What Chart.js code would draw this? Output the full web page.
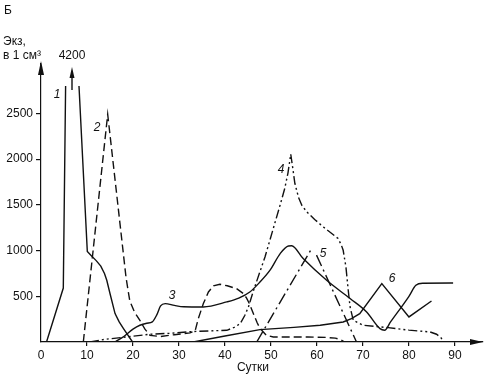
<!DOCTYPE html>
<html>
<head>
<meta charset="utf-8">
<script src="https://cdn.jsdelivr.net/npm/chart.js@4.4.1/dist/chart.umd.min.js"></script>
<style>
html,body{margin:0;padding:0;background:#fff;}
#wrap{width:488px;height:378px;position:relative;}
</style>
</head>
<body>
<div id="wrap"><canvas id="c" width="488" height="378"></canvas></div>
<script>
// ---- data (days, specimens per cm3) ----
const xTicks = [0,10,20,30,40,50,60,70,80,90];
const yTicks = [500,1000,1500,2000,2500];
const curve1 = [[1.2,0],[4.85,590],[5.35,2800],[6.8,null],[8.26,2800],[10.07,990],[11,940],[12,890],[13,830],[13.8,750],[14.3,675],[15,530],[16.1,311],[17,220],[17.9,150],[19.9,0]];
const curve2 = [[9.2,0],[14.5,2490],[18.5,700],[19.3,450],[20.3,330],[21.5,237],[22.6,140],[23.7,73],[26,60],[29,80],[32.4,100],[33.5,120],[34.2,256],[35.3,420],[36.4,547],[37.5,615],[38.9,631],[40.5,615],[42.5,584],[44,530],[44.7,480],[45.3,420],[46.1,320],[47,210],[47.6,150],[49,73],[50.5,55],[58,55],[62,50],[64,42],[65.2,25],[66,0]];
const curve3 = [[16.1,0],[18,60],[20,140],[21.5,183],[23,205],[24.2,220],[25.2,300],[26,395],[27,420],[29,400],[31,385],[35.3,383],[40.4,438],[43,480],[45.4,547],[47.5,650],[49.8,785],[52,967],[53.8,1050],[54.5,1052],[57,912],[62.1,675],[67.2,475],[70.8,328],[73.7,146],[74.7,128],[76,220],[80,500],[81.5,620],[83,643],[89.6,645]];
const curve4 = [[10.65,0],[14,30],[18.6,55],[23.7,85],[28,95],[33.1,115],[40.4,128],[42,160],[43.3,200],[44.3,290],[45.1,383],[46.1,547],[48.7,930],[52,1500],[53,1680],[53.7,1850],[54.3,2054],[54.8,1880],[55.2,1733],[56,1580],[56.7,1496],[57.8,1422],[59.5,1340],[61.4,1258],[63,1195],[64.6,1131],[65.3,1060],[65.7,1003],[66.3,820],[66.8,566],[67.2,383],[67.9,237],[70,183],[75.5,157],[80,130],[84.6,110],[86,85],[87,45],[87.5,0]];
const curve5 = [[46.9,0],[58.8,1018],[59.3,null],[59.9,950],[68.6,0]];
const curve6 = [[33.1,0],[40,65],[47.6,135],[55,160],[60.7,183],[65.7,219],[67.5,255],[69.3,310],[74.1,639],[80,274],[84.9,448]];
const curveLabels = [["1",57,95],["2",97,128],["3",172,296],["4",281,170],["5",323,254],["6",392,279]];

const toPts = a => a.map(p => ({x:p[0], y:p[1]}));
const INK = '#111';
function ds(arr, dash, smooth){
  return {data: toPts(arr), borderColor: INK, borderWidth: 1.4, borderDash: dash,
    pointRadius: 0, fill: false, spanGaps: false,
    tension: 0, cubicInterpolationMode: smooth ? 'monotone' : 'default'};
}

const deco = {
  id: 'deco',
  afterDraw(chart){
    const ctx = chart.ctx, a = chart.chartArea;
    ctx.save();
    ctx.fillStyle = INK; ctx.strokeStyle = INK;
    // y arrow
    ctx.beginPath();
    ctx.moveTo(a.left, a.top - 3); ctx.lineTo(a.left - 3, a.top + 11); ctx.lineTo(a.left + 3, a.top + 11); ctx.closePath(); ctx.fill();
    // x arrow
    ctx.beginPath();
    ctx.moveTo(a.right, a.bottom); ctx.lineTo(a.right - 13, a.bottom - 3); ctx.lineTo(a.right - 13, a.bottom + 3); ctx.closePath(); ctx.fill();
    // 4200 arrow
    const ax = 72;
    ctx.lineWidth = 1.4;
    ctx.beginPath(); ctx.moveTo(ax, 90); ctx.lineTo(ax, 76); ctx.stroke();
    ctx.beginPath(); ctx.moveTo(ax, 67); ctx.lineTo(ax - 2.5, 78); ctx.lineTo(ax + 2.5, 78); ctx.closePath(); ctx.fill();
    // texts
    ctx.font = '12px "Liberation Sans", Arial, sans-serif';
    ctx.textBaseline = 'middle';
    ctx.textAlign = 'left';
    ctx.fillText('Б', 4, 11);
    ctx.fillText('Экз,', 3, 42);
    ctx.fillText('в 1 см³', 3, 56);
    ctx.textAlign = 'center';
    ctx.fillText('4200', 72, 56);
    ctx.fillText('Сутки', 253, 368);
    ctx.font = 'italic 12px "Liberation Sans", Arial, sans-serif';
    curveLabels.forEach(l => ctx.fillText(l[0], l[1], l[2]));
    ctx.restore();
  }
};

new Chart(document.getElementById('c'), {
  type: 'line',
  data: { datasets: [
    ds(curve1, [], false),
    ds(curve2, [8,4], false),
    ds(curve3, [], true),
    ds(curve4, [9,3,2,3,2,3], false),
    ds(curve5, [12,4,2,4], false),
    ds(curve6, [], false)
  ]},
  options: {
    responsive: false, animation: false,
    layout: { padding: { top: 64, right: 5, left: 0, bottom: 0 } },
    plugins: { legend: {display:false}, tooltip: {enabled:false} },
    scales: {
      x: {
        type: 'linear', min: 0, max: 96.1,
        afterBuildTicks: s => { s.ticks = xTicks.map(v => ({value:v})); },
        afterFit: s => { s.height = 36; },
        border: { display: true, color: INK, width: 1.2 },
        grid: { drawOnChartArea: false, drawTicks: true, tickLength: 4, color: c => c.tick && c.tick.value === 0 ? 'rgba(0,0,0,0)' : INK, lineWidth: 1.2 },
        ticks: { padding: 2, maxRotation: 0, autoSkip: false, color: INK, font: { family: '"Liberation Sans", Arial, sans-serif', size: 12 }, callback: v => String(v) }
      },
      y: {
        type: 'linear', min: 0, max: 3040,
        afterBuildTicks: s => { s.ticks = yTicks.map(v => ({value:v})); },
        afterFit: s => { s.width = 41; },
        border: { display: true, color: INK, width: 1.2 },
        grid: { drawOnChartArea: false, drawTicks: true, tickLength: 5, color: INK, lineWidth: 1.2 },
        ticks: { padding: 3, color: INK, font: { family: '"Liberation Sans", Arial, sans-serif', size: 12 }, callback: v => String(v) }
      }
    }
  },
  plugins: [deco]
});
</script>
</body>
</html>
